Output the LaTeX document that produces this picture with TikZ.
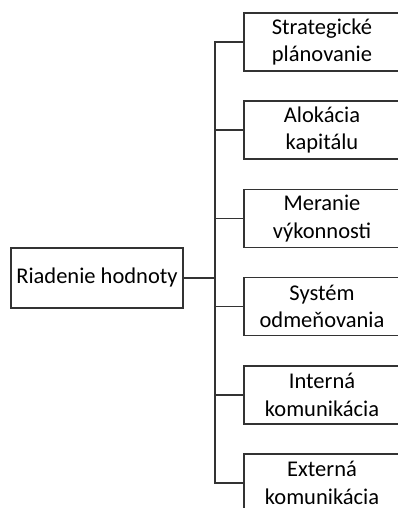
\documentclass[tikz,border=0pt]{standalone}
\usepackage{fontspec}
\setmainfont{Carlito}
\begin{document}
\begin{tikzpicture}[x=1pt,y=1pt,
  box/.style={draw=black!80, line width=1.6pt, fill=white, align=center,
    inner sep=0pt, font=\fontsize{22.5}{27.5}\selectfont, text=black},
  rootbox/.style={box, minimum width=172pt, minimum height=60pt},
  leafbox/.style={box, minimum width=156pt, minimum height=58pt},
  link/.style={draw=black!80, line width=1.6pt}]
\useasboundingbox (0,0) rectangle (398,508);
\clip (0,0) rectangle (398,508);
\fill[white] (0,0) rectangle (398,508);

% root
\node[rootbox] (root) at (97,230) {Riadenie hodnoty};

% branch point on the trunk
\coordinate (mid) at (215,230);

% leaves
\node[leafbox] (l1) at (322,466) {Strategické\\plánovanie};
\node[leafbox] (l2) at (322,377.8) {Alokácia\\kapitálu};
\node[leafbox] (l3) at (322,289.6) {Meranie\\výkonnosti};
\node[leafbox] (l4) at (322,201.4) {Systém\\odmeňovania};
\node[leafbox] (l5) at (322,113.2) {Interná\\komunikácia};
\node[leafbox] (l6) at (322,25) {Externá\\komunikácia};

% connectors
\draw[link] (root.east) -- (mid);
\draw[link] (l1.west) -| (mid);
\draw[link] (l6.west) -| (mid);
\foreach \n in {l2,l3,l4,l5} {
  \draw[link] (\n.west) -- (\n.west -| mid);
}
\end{tikzpicture}
\end{document}
